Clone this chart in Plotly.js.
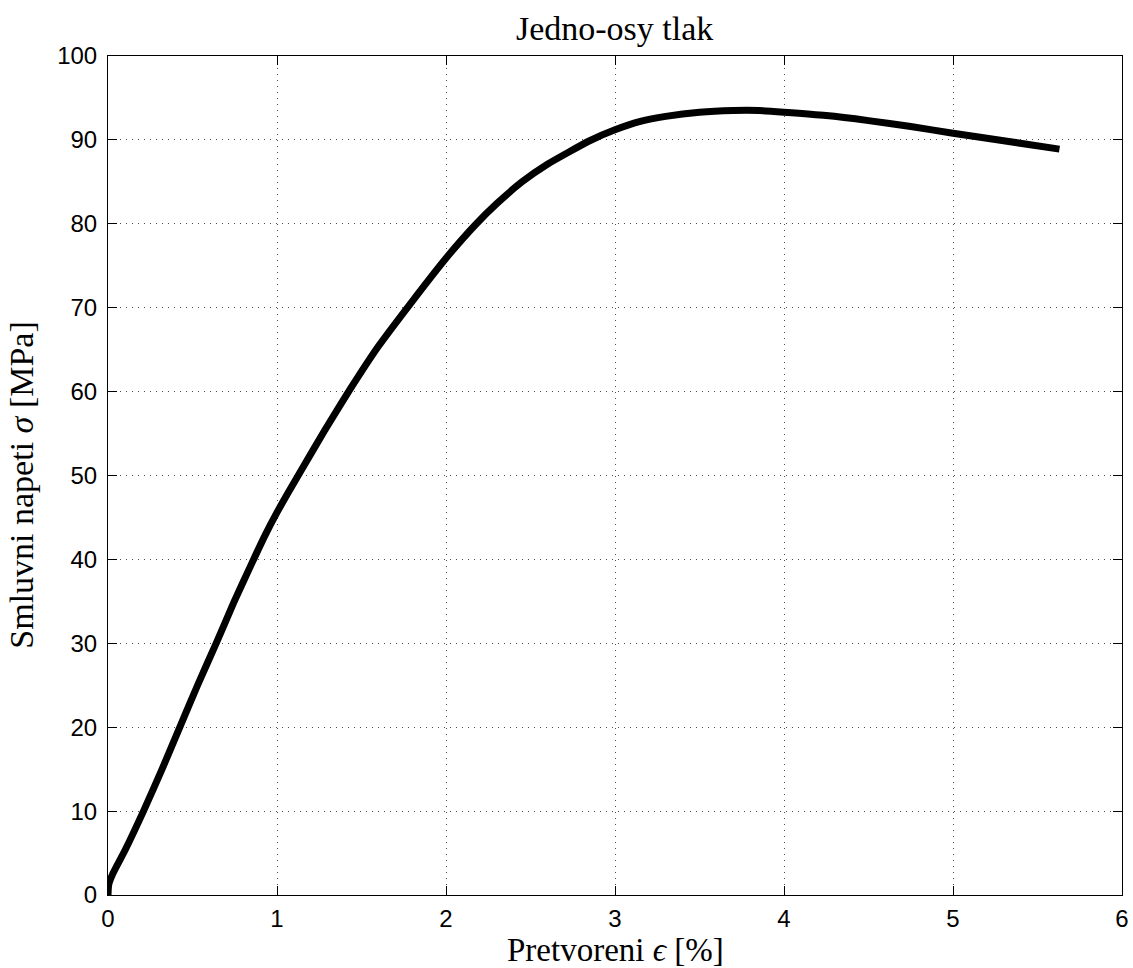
<!DOCTYPE html>
<html>
<head>
<meta charset="utf-8">
<script src="https://cdn.plot.ly/plotly-3.0.1.min.js"></script>
<style>html,body{margin:0;padding:0;background:#fff;}#chart{width:1133px;height:968px;}</style>
</head>
<body>
<div id="chart"></div>
<script>
// Strain [%]
const strain = [0, 0.004, 0.03, 0.1, 0.21, 0.32, 0.425, 0.53, 0.64, 0.745, 0.85, 0.93, 1.0, 1.07, 1.14, 1.28, 1.43, 1.6, 1.79, 2.0, 2.17, 2.3, 2.45, 2.6, 2.85, 3.0, 3.15, 3.3, 3.5, 3.7, 3.85, 4.0, 4.25, 4.5, 4.75, 5.0, 5.3, 5.63];
// Stress [MPa]
const stress = [0, 1.2, 2.6, 5.3, 10, 15, 20, 25, 30, 34.9, 39.5, 42.9, 45.6, 48.1, 50.5, 55.3, 60.2, 65.4, 70.5, 75.9, 79.8, 82.4, 85.0, 87.1, 89.9, 91.2, 92.2, 92.8, 93.3, 93.5, 93.5, 93.3, 92.9, 92.3, 91.6, 90.8, 89.9, 88.9];

const titleText = 'Jedno-osy tlak';
const xLabel = 'Pretvoreni <i>ϵ</i> [%]';
const yLabel = 'Smluvni napeti <i>σ</i> [MPa]';

const serif = '"Liberation Serif", "DejaVu Serif", serif';
const sans = '"Liberation Sans", Arial, sans-serif';

const trace = {
  x: strain, y: stress, type: 'scatter', mode: 'lines',
  line: {color: '#000', width: 7, shape: 'spline', smoothing: 0.5},
  hoverinfo: 'skip', showlegend: false
};

const axisCommon = {
  showline: true, linecolor: '#000', linewidth: 1, mirror: 'ticks',
  ticks: 'inside', ticklen: 9, tickcolor: '#000', tickwidth: 1,
  showgrid: true, gridcolor: 'rgba(0,0,0,0.7)', griddash: '1px,5px', gridwidth: 1,
  zeroline: false, tickfont: {family: sans, size: 24, color: '#000'},
  fixedrange: true, automargin: false
};

const layout = {
  width: 1133, height: 968,
  margin: {l: 108, r: 11, t: 56, b: 73},
  paper_bgcolor: '#fff', plot_bgcolor: '#fff',
  title: {text: titleText, font: {family: serif, size: 34, color: '#000'},
          x: 0.5425, xanchor: 'center', y: 0.971, yanchor: 'middle'},
  xaxis: Object.assign({}, axisCommon, {
    range: [0, 6], tickmode: 'linear', tick0: 0, dtick: 1,
    ticklabelstandoff: 2
  }),
  yaxis: Object.assign({}, axisCommon, {
    range: [0, 100], tickmode: 'linear', tick0: 0, dtick: 10,
    ticklabelstandoff: 5
  }),
  annotations: [
    {text: xLabel, xref: 'paper', yref: 'paper', x: 0.5, y: 0,
     xanchor: 'center', yanchor: 'top', yshift: -35, showarrow: false,
     font: {family: serif, size: 33, color: '#000'}},
    {text: yLabel, xref: 'paper', yref: 'paper', x: 0, y: 0.489,
     xanchor: 'center', yanchor: 'middle', xshift: -86, textangle: -90, showarrow: false,
     font: {family: serif, size: 34, color: '#000'}}
  ]
};

Plotly.newPlot('chart', [trace], layout, {displayModeBar: false, staticPlot: true});
</script>
</body>
</html>
